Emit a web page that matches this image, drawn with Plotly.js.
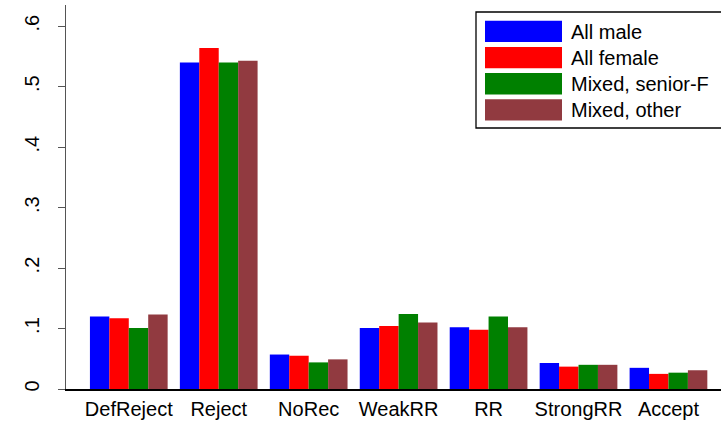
<!DOCTYPE html>
<html>
<head>
<meta charset="utf-8">
<script src="https://cdn.plot.ly/plotly-3.0.1.min.js"></script>
<style>html,body{margin:0;padding:0;background:#fff;}#chart{width:721px;height:426px;}</style>
</head>
<body>
<div id="chart"></div>
<script>
const categories = ['DefReject', 'Reject', 'NoRec', 'WeakRR', 'RR', 'StrongRR', 'Accept'];
const seriesNames = ['All male', 'All female', 'Mixed, senior-F', 'Mixed, other'];
const allMale      = [0.120, 0.540, 0.057, 0.101, 0.102, 0.043, 0.035];
const allFemale    = [0.117, 0.564, 0.055, 0.104, 0.098, 0.037, 0.025];
const mixedSeniorF = [0.101, 0.540, 0.044, 0.124, 0.120, 0.040, 0.027];
const mixedOther   = [0.123, 0.543, 0.049, 0.110, 0.102, 0.040, 0.031];
const yTickVals = [0, 0.1, 0.2, 0.3, 0.4, 0.5, 0.6];
const yTickText = ['0', '.1', '.2', '.3', '.4', '.5', '.6'];

const seriesValues = [allMale, allFemale, mixedSeniorF, mixedOther];
const colors = ['#0000ff', '#ff0000', '#008000', '#913a40'];

const W = 721, H = 426;
const M = {l: 66, r: 0, t: 5, b: 37};
const pw = W - M.l - M.r, ph = H - M.t - M.b;
const px = x => (x - M.l) / pw;
const py = y => (H - M.b - y) / ph;
const FONT = 'Liberation Sans, Arial, sans-serif';

const traces = seriesValues.map((vals, i) => ({
  type: 'bar',
  x: categories,
  y: vals,
  name: seriesNames[i],
  marker: {color: colors[i], line: {width: 0}},
  showlegend: false,
  hoverinfo: 'x+y+name'
}));

const shapes = [{
  type: 'rect', xref: 'paper', yref: 'paper',
  x0: px(476), x1: px(740), y0: py(128), y1: py(12),
  line: {color: '#000', width: 1.3}, fillcolor: '#fff', layer: 'above'
}];
const annotations = [];
seriesNames.forEach((name, i) => {
  const top = 20.7 + i * 26.2, bot = top + 21.3;
  shapes.push({
    type: 'rect', xref: 'paper', yref: 'paper',
    x0: px(485), x1: px(562), y0: py(bot), y1: py(top),
    line: {width: 0}, fillcolor: colors[i], layer: 'above'
  });
  annotations.push({
    xref: 'paper', yref: 'paper', x: px(569), y: py((top + bot) / 2 + 0.5),
    xanchor: 'left', yanchor: 'middle', showarrow: false,
    text: name, font: {family: FONT, size: 20, color: '#000'}
  });
});

const layout = {
  width: W, height: H,
  margin: M,
  paper_bgcolor: '#fff', plot_bgcolor: '#fff',
  barmode: 'group', bargap: 0.136, bargroupgap: 0,
  font: {family: FONT, size: 20, color: '#000'},
  xaxis: {
    type: 'category', range: [-0.698, 6.584],
    showline: true, linecolor: '#000', linewidth: 1.5,
    ticks: '', showgrid: false, zeroline: false,
    ticklabelstandoff: 1,
    tickfont: {size: 20, color: '#000'}
  },
  yaxis: {
    range: [0, 0.635],
    tickvals: yTickVals, ticktext: yTickText,
    tickangle: -90,
    ticks: 'outside', ticklen: 7, tickcolor: '#555', tickwidth: 1,
    showline: true, linecolor: '#555', linewidth: 1.3,
    showgrid: false, zeroline: false,
    ticklabelstandoff: 11,
    tickfont: {size: 20, color: '#000'}
  },
  shapes: shapes,
  annotations: annotations,
  showlegend: false
};

Plotly.newPlot('chart', traces, layout, {displayModeBar: false, staticPlot: true});
</script>
</body>
</html>
